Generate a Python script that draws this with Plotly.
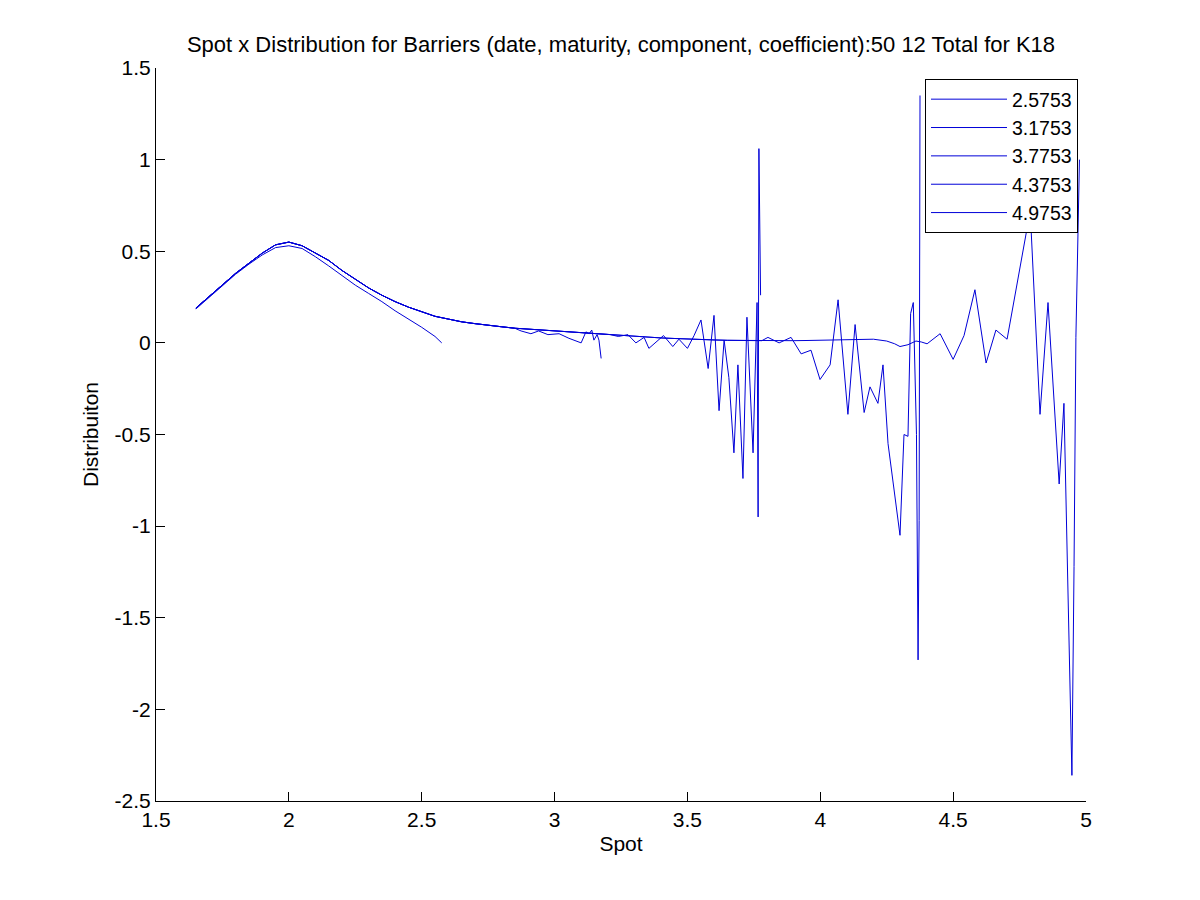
import plotly.graph_objects as go

# ---- data ----
series_names = ["2.5753", "3.1753", "3.7753", "4.3753", "4.9753"]

s1_x = [1.65, 1.70, 1.75, 1.80, 1.85, 1.90, 1.95, 2.00, 2.05, 2.10, 2.15, 2.20,
        2.25, 2.30, 2.35, 2.40, 2.45, 2.50, 2.55, 2.5753]
s1_y = [0.185, 0.25, 0.31, 0.375, 0.43, 0.48, 0.52, 0.53, 0.515, 0.47, 0.42, 0.365,
        0.315, 0.27, 0.225, 0.175, 0.13, 0.085, 0.035, 0.0]

# common smooth part shared by the longer horizons
base_x = [1.65, 1.70, 1.75, 1.80, 1.85, 1.90, 1.95, 2.00, 2.05, 2.10, 2.15, 2.20,
          2.25, 2.30, 2.35, 2.40, 2.45, 2.50, 2.55, 2.60, 2.65, 2.70, 2.75, 2.80,
          2.85, 2.90, 2.95, 3.00, 3.05, 3.10, 3.15, 3.20, 3.25, 3.30, 3.35, 3.40,
          3.45, 3.50, 3.55, 3.60, 3.65, 3.70, 3.75, 3.80, 3.85, 3.90, 3.95, 4.00,
          4.05, 4.10, 4.15, 4.20, 4.25, 4.28, 4.30, 4.33, 4.36, 4.38]
base_y = [0.19, 0.255, 0.315, 0.38, 0.435, 0.49, 0.535, 0.55, 0.53, 0.49, 0.45, 0.395,
          0.345, 0.30, 0.26, 0.225, 0.195, 0.17, 0.145, 0.13, 0.115, 0.105, 0.095, 0.088,
          0.08, 0.075, 0.07, 0.065, 0.06, 0.055, 0.05, 0.045, 0.04, 0.035, 0.03, 0.027,
          0.024, 0.02, 0.018, 0.016, 0.014, 0.013, 0.012, 0.012, 0.012, 0.012, 0.013, 0.014,
          0.015, 0.016, 0.02, 0.02, 0.01, -0.005, -0.02, -0.01, 0.01, 0.005]

s2_noise_x = [2.874, 2.911, 2.94, 2.975, 3.017, 3.054, 3.10, 3.118, 3.13, 3.14,
              3.148, 3.16, 3.167, 3.1753]
s2_noise_y = [0.065, 0.05, 0.065, 0.045, 0.05, 0.025, 0.0, 0.06, 0.05, 0.07,
              0.015, 0.045, 0.015, -0.085]

s3_noise_x = [3.18, 3.21, 3.24, 3.276, 3.306, 3.337, 3.355, 3.38, 3.41, 3.445, 3.468,
              3.50, 3.525, 3.551, 3.578, 3.60, 3.619, 3.638, 3.656, 3.675, 3.69,
              3.709, 3.724, 3.747, 3.762, 3.766, 3.769, 3.7753]
s3_noise_y = [0.05, 0.045, 0.035, 0.045, 0.0, 0.03, -0.03, 0.0, 0.04, -0.02, 0.02,
              -0.03, 0.04, 0.125, -0.14, 0.15, -0.37, 0.015, -0.19, -0.6, -0.12,
              -0.74, 0.14, -0.6, 0.22, -0.95, 1.06, 0.26]

s4_noise_x = [3.78, 3.803, 3.845, 3.89, 3.928, 3.965, 3.999, 4.037, 4.067, 4.104,
              4.131, 4.165, 4.187, 4.217, 4.236, 4.255, 4.30, 4.315, 4.33, 4.34,
              4.35, 4.362, 4.368, 4.372, 4.3753]
s4_noise_y = [0.012, 0.03, 0.0, 0.03, -0.06, -0.04, -0.2, -0.12, 0.235, -0.39,
              0.1, -0.38, -0.24, -0.33, -0.12, -0.55, -1.05, -0.5, -0.51, 0.16,
              0.22, -0.5, -1.73, -0.97, 1.35]

s5_noise_x = [4.402, 4.451, 4.50, 4.541, 4.582, 4.624, 4.661, 4.703, 4.79, 4.827,
              4.857, 4.899, 4.917, 4.947, 4.955, 4.962, 4.9753]
s5_noise_y = [-0.005, 0.05, -0.09, 0.04, 0.29, -0.11, 0.07, 0.02, 0.72, -0.39,
              0.22, -0.77, -0.33, -2.36, -1.22, 0.03, 1.0]

x_ticks = [1.5, 2, 2.5, 3, 3.5, 4, 4.5, 5]
x_tick_text = ["1.5", "2", "2.5", "3", "3.5", "4", "4.5", "5"]
y_ticks = [-2.5, -2, -1.5, -1, -0.5, 0, 0.5, 1, 1.5]
y_tick_text = ["-2.5", "-2", "-1.5", "-1", "-0.5", "0", "0.5", "1", "1.5"]


def build(limit, nx, ny):
    xs = [v for v in base_x if v < limit]
    ys = base_y[:len(xs)]
    return xs + nx, ys + ny


s2_x, s2_y = build(2.86, s2_noise_x, s2_noise_y)
s3_x, s3_y = build(3.17, s3_noise_x, s3_noise_y)
s4_x, s4_y = build(3.77, s4_noise_x, s4_noise_y)
s5_x, s5_y = build(4.39, s5_noise_x, s5_noise_y)

all_x = [s1_x, s2_x, s3_x, s4_x, s5_x]
all_y = [s1_y, s2_y, s3_y, s4_y, s5_y]

line_color = "#0000d8"
fig = go.Figure()
for name, xs, ys in zip(series_names, all_x, all_y):
    fig.add_trace(go.Scatter(x=xs, y=ys, mode="lines", name=name,
                             line=dict(color=line_color, width=1)))

font_family = "Liberation Sans, Arial, sans-serif"
fig.update_layout(
    width=1200, height=900,
    paper_bgcolor="white", plot_bgcolor="white",
    margin=dict(l=148, r=122, t=60, b=107),
    font=dict(family=font_family, size=21, color="black"),
    title=dict(text="Spot x Distribution for Barriers (date, maturity, component, coefficient):50 12 Total for K18",
               xref="paper", x=0.5, xanchor="center",
               yref="container", y=0.96, yanchor="middle",
               font=dict(size=22, family=font_family, color="black")),
    showlegend=True,
    legend=dict(x=0.9914, xanchor="right", y=0.985, yanchor="top",
                bgcolor="white", bordercolor="black", borderwidth=1,
                font=dict(size=19.5, family=font_family, color="black"),
                itemwidth=76, tracegroupgap=0),
)
fig.update_xaxes(range=[1.5, 5], tickvals=x_ticks, ticktext=x_tick_text,
                 ticks="inside", ticklen=9, tickcolor="black", tickwidth=1,
                 showline=True, linecolor="black", linewidth=1,
                 showgrid=False, zeroline=False,
                 title=dict(text="Spot", font=dict(size=21), standoff=6))
fig.update_yaxes(range=[-2.5, 1.5], tickvals=y_ticks, ticktext=y_tick_text,
                 ticks="inside", ticklen=9, tickcolor="black", tickwidth=1,
                 showline=True, linecolor="black", linewidth=1,
                 showgrid=False, zeroline=False,
                 title=dict(text="Distribuiton", font=dict(size=21), standoff=10))

fig.write_html("out.html")
